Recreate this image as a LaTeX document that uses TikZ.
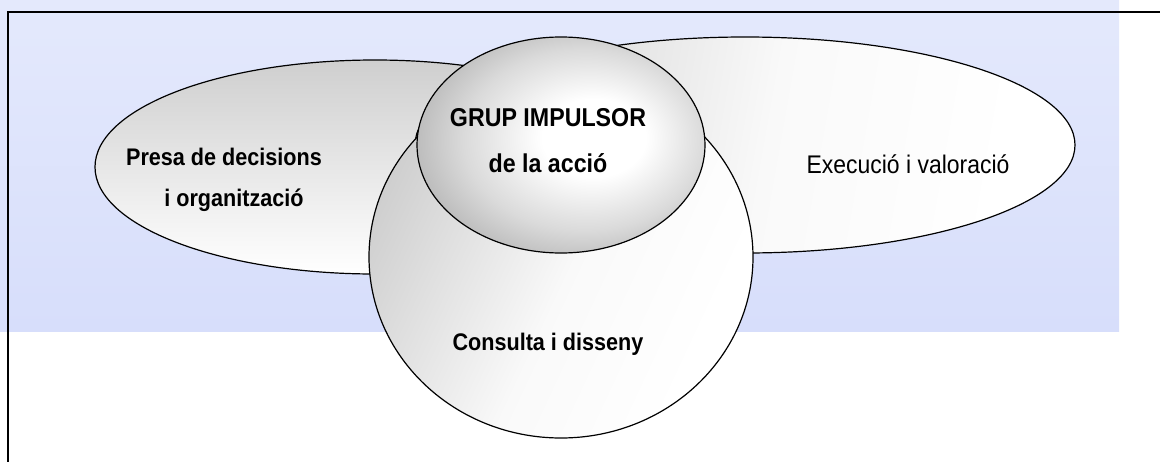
\documentclass[tikz,border=0pt]{standalone}
\usepackage{fontspec}
\setmainfont[FakeStretch=0.9]{Liberation Sans}
\usetikzlibrary{shapes.geometric}
\definecolor{bandtop}{HTML}{E4E9FC}
\definecolor{bandbot}{HTML}{D7DEFB}
\definecolor{shadegray}{HTML}{CFCFCF}
\definecolor{grupgray}{HTML}{ADADAD}
% shadings of the fields
\pgfdeclarehorizontalshading{fieldshade}{100bp}{color(0bp)=(shadegray); color(25bp)=(shadegray);
    color(52bp)=(white!88!shadegray); color(72bp)=(white); color(100bp)=(white)}
\pgfdeclareradialshading{grupshade}{\pgfpoint{7bp}{2bp}}{color(0bp)=(white); color(9bp)=(white);
    color(21bp)=(white!55!grupgray); color(32bp)=(grupgray); color(50bp)=(grupgray)}
\begin{document}
\begin{tikzpicture}[x=1pt, y=-1pt,
    every node/.style={inner sep=0pt},
    blob/.style={draw, ellipse, line width=1.2pt},
    lbl/.style={anchor=base, font=\bfseries\fontsize{24}{28}\selectfont}]
    \useasboundingbox (0,0) rectangle (1160,461);
    % background band
    \fill[top color=bandtop, bottom color=bandbot] (0,0) rectangle (1119,331);
    % frame
    \draw[line width=1.6pt] (8,470) -- (8,12) -- (1170,12);

    % left field
    \node[blob, minimum width=560pt, minimum height=214pt,
        top color=shadegray, bottom color=white] (decide) at (375,167) {};
    % right field
    \node[blob, minimum width=660pt, minimum height=216pt,
        shading=fieldshade, shading angle=-10] (execute) at (745,145) {};
    % lower field
    \node[blob, minimum width=384pt, minimum height=362pt,
        shading=fieldshade, shading angle=-25] (consult) at (561,257) {};
    % core
    \node[blob, minimum width=288pt, minimum height=216pt,
        shading=grupshade] (grup) at (561,145) {};

    % labels
    \node[lbl] (decide_t1) at (224,165) {Presa de decisions};
    \node[lbl] (decide_t2) at (234,206) {i organització};
    \node[lbl, font=\bfseries\fontsize{25.8}{30}\selectfont] (grup_t1) at (548,126) {GRUP IMPULSOR};
    \node[lbl, font=\bfseries\fontsize{25.8}{30}\selectfont] (grup_t2) at (548,172) {de la acció};
    \node[lbl, font=\fontsize{25.5}{30}\selectfont] (execute_t) at (908,173) {Execució i valoració};
    \node[lbl] (consult_t) at (548,350) {Consulta i disseny};
\end{tikzpicture}
\end{document}
